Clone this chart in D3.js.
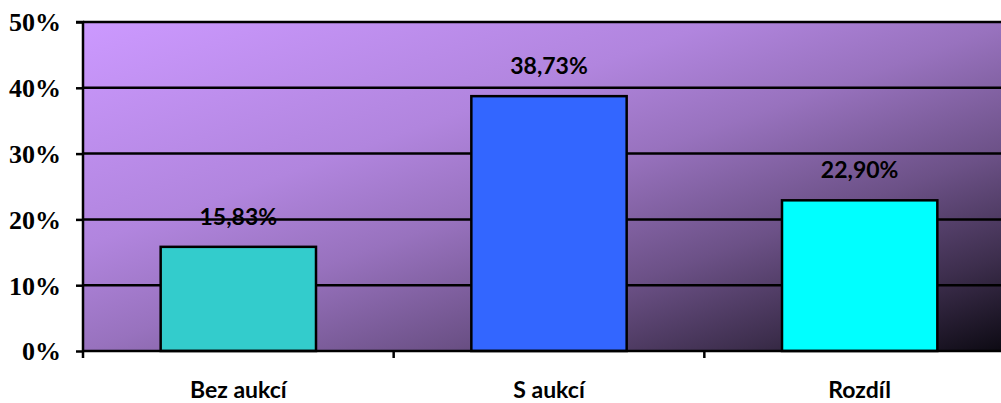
<!DOCTYPE html>
<html><head><meta charset="utf-8">
<script src="https://cdn.jsdelivr.net/npm/d3@7"></script>
<style>html,body{margin:0;padding:0;background:#fff;overflow:hidden}
.serif{font-family:"Liberation Serif","Times New Roman",Tinos,serif !important;font-weight:bold;font-size:26px}
.sans{font-family:Lato,"Liberation Sans",sans-serif;font-weight:bold;font-size:23px}
</style>
</head><body>
<svg id="c" width="1001" height="403"></svg>
<script>
const categories = ["Bez aukcí", "S aukcí", "Rozdíl"];
const values = [0.1583, 0.3873, 0.2290];
const valueLabels = ["15,83%", "38,73%", "22,90%"];
const barColors = ["#33cccc", "#3366ff", "#00ffff"];
const yTicks = [0, 0.1, 0.2, 0.3, 0.4, 0.5];
const yTickLabels = ["0%", "10%", "20%", "30%", "40%", "50%"];

const svg = d3.select("#c");
const L = 83, R = 1015, T = 22, B = 351;
const y = d3.scaleLinear().domain([0, 0.5]).range([B, T]);
const x = d3.scaleBand().domain(categories).range([L, R]).paddingInner(0.5).paddingOuter(0.25);

const defs = svg.append("defs");
const g = defs.append("linearGradient").attr("id", "bg")
  .attr("x1", 0).attr("y1", 0).attr("x2", 1).attr("y2", 1);
[[0, "#cc99ff"], [0.34, "#b185de"], [0.5, "#9872be"], [0.69, "#6c5187"], [0.85, "#3d2e4d"], [1, "#0a0810"]]
  .forEach(([o, c]) => g.append("stop").attr("offset", o).attr("stop-color", c));

svg.append("rect").attr("x", L).attr("y", T).attr("width", R - L).attr("height", B - T).attr("fill", "url(#bg)");

// gridlines
svg.append("g").selectAll("line").data(yTicks.slice(1)).join("line")
  .attr("x1", L).attr("x2", R).attr("y1", d => y(d)).attr("y2", d => y(d))
  .attr("stroke", "#000").attr("stroke-width", 2.5);

// bars
svg.append("g").selectAll("rect").data(values).join("rect")
  .attr("x", (d, i) => x(categories[i]))
  .attr("y", d => y(d))
  .attr("width", x.bandwidth())
  .attr("height", d => B - y(d))
  .attr("fill", (d, i) => barColors[i])
  .attr("stroke", "#000").attr("stroke-width", 2.5);

// data labels
svg.append("g").selectAll("text").data(values).join("text")
  .attr("class", "sans")
  .attr("x", (d, i) => x(categories[i]) + x.bandwidth() / 2)
  .attr("y", d => y(d) - 22)
  .attr("text-anchor", "middle")
  .attr("fill", "#000")
  .text((d, i) => valueLabels[i]);

// y axis
const yAxis = d3.axisLeft(y).tickValues(yTicks).tickSize(7).tickFormat((d, i) => yTickLabels[i]);
const ya = svg.append("g").attr("transform", `translate(${L},0)`).call(yAxis);
ya.attr("font-family", null).attr("font-size", null);
ya.select(".domain").attr("stroke", "#000").attr("stroke-width", 2.5).attr("d", `M-7,${T}H0V${B + 7}`);
ya.selectAll(".tick line").attr("stroke", "#000").attr("stroke-width", 2.5);
ya.selectAll(".tick text").attr("class", "serif").attr("x", -22).attr("dy", "0.34em").attr("fill", "#000");

// x axis
svg.append("line").attr("x1", L).attr("x2", R).attr("y1", B).attr("y2", B)
  .attr("stroke", "#000").attr("stroke-width", 2.5);
const boundaries = categories.slice(1).map(c => x(c) - x.step() * x.paddingInner() / 2);
svg.append("g").selectAll("line").data(boundaries).join("line")
  .attr("x1", d => d).attr("x2", d => d).attr("y1", B).attr("y2", B + 7)
  .attr("stroke", "#000").attr("stroke-width", 2.5);
svg.append("g").selectAll("text").data(categories).join("text")
  .attr("class", "sans")
  .attr("x", d => x(d) + x.bandwidth() / 2)
  .attr("y", 398)
  .attr("text-anchor", "middle")
  .attr("fill", "#000")
  .text(d => d);
</script>
</body></html>
